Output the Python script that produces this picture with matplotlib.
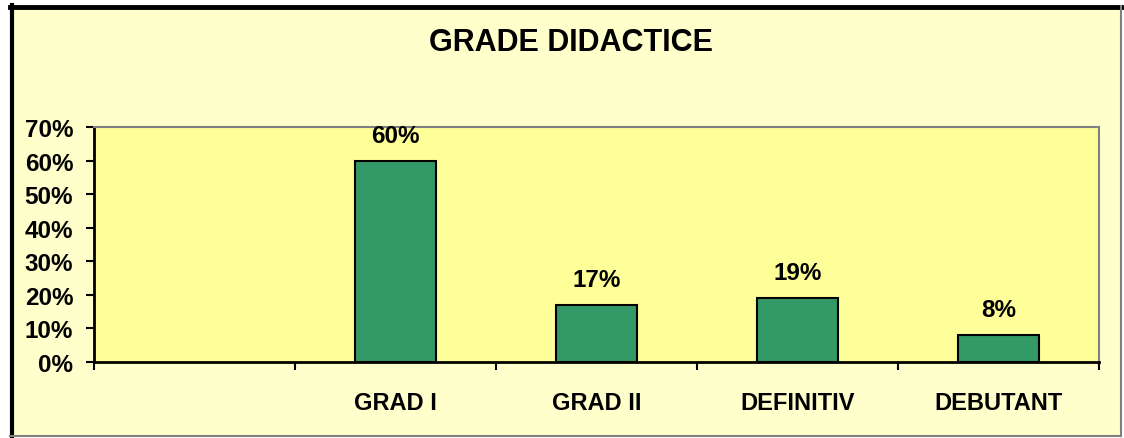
#!/usr/bin/env python3

import numpy as np
import matplotlib
matplotlib.use('Agg')
import matplotlib.pyplot as plt
from matplotlib.lines import Line2D

categories = ['', 'GRAD I', 'GRAD II', 'DEFINITIV', 'DEBUTANT']
values = [np.nan, 60, 17, 19, 8]
yticks = [0, 10, 20, 30, 40, 50, 60, 70]
title = 'GRADE DIDACTICE'

plt.rcParams['font.family'] = ['Liberation Sans', 'DejaVu Sans']
plt.rcParams['font.weight'] = 'bold'

W, H = 1124, 439
fig = plt.figure(figsize=(W / 100, H / 100), dpi=100)
fig.patch.set_facecolor('white')

# outer chart area with Excel-like border
fig.patches.append(plt.Rectangle((10 / W, 2 / H), 1111 / W, 429 / H, transform=fig.transFigure,
	facecolor='#FFFFCC', edgecolor='none', zorder=-5))
fig.lines.append(Line2D([11.5 / W, 11.5 / W], [2 / H, 433 / H], transform=fig.transFigure, color='black', lw=3, zorder=-4))
fig.lines.append(Line2D([10 / W, 1121 / W], [431.5 / H, 431.5 / H], transform=fig.transFigure, color='black', lw=3.5, zorder=-4))
fig.lines.append(Line2D([1120.5 / W, 1120.5 / W], [2 / H, 432 / H], transform=fig.transFigure, color='#808080', lw=1.5, zorder=-4))
fig.lines.append(Line2D([10 / W, 1121 / W], [2.5 / H, 2.5 / H], transform=fig.transFigure, color='#808080', lw=1.5, zorder=-4))

ax = fig.add_axes([94 / W, (H - 363) / H, (1099 - 94) / W, (363 - 128) / H])
ax.set_zorder(2)
ax.set_facecolor('#FFFF99')

x = np.arange(len(categories))
ax.bar(x, values, width=0.4, color='#339966', edgecolor='black', linewidth=1.5, zorder=3)
for xi, v in zip(x, values):
	if np.isnan(v):
		continue
	ax.annotate(f'{v:.0f}%', (xi, v), xytext=(0, 10), textcoords='offset points',
		ha='center', va='bottom', fontsize=17.5, fontweight='bold')

ax.set_xlim(-0.5, len(categories) - 0.5)
ax.set_ylim(0, 70)
ax.set_yticks(yticks)
ax.set_yticklabels([f'{t}%' for t in yticks], fontsize=17.5, fontweight='bold')
ax.set_xticks(x)
ax.set_xticklabels(categories, fontsize=17, fontweight='bold')
ax.set_xticks(np.arange(len(categories) + 1) - 0.5, minor=True)
ax.tick_params(axis='x', which='major', length=0, pad=21)
ax.tick_params(axis='x', which='minor', length=6, width=1.5, direction='out')
ax.tick_params(axis='y', length=6, width=1.5, pad=9)

for s in ['left', 'bottom']:
	ax.spines[s].set_linewidth(2)
	ax.spines[s].set_color('black')
for s in ['top', 'right']:
	ax.spines[s].set_linewidth(1.5)
	ax.spines[s].set_color('#808080')

fig.text(571 / W, (H - 43) / H, title, ha='center', va='center', fontsize=22, fontweight='bold')

fig.savefig('out.png', dpi=100)
plt.close()
